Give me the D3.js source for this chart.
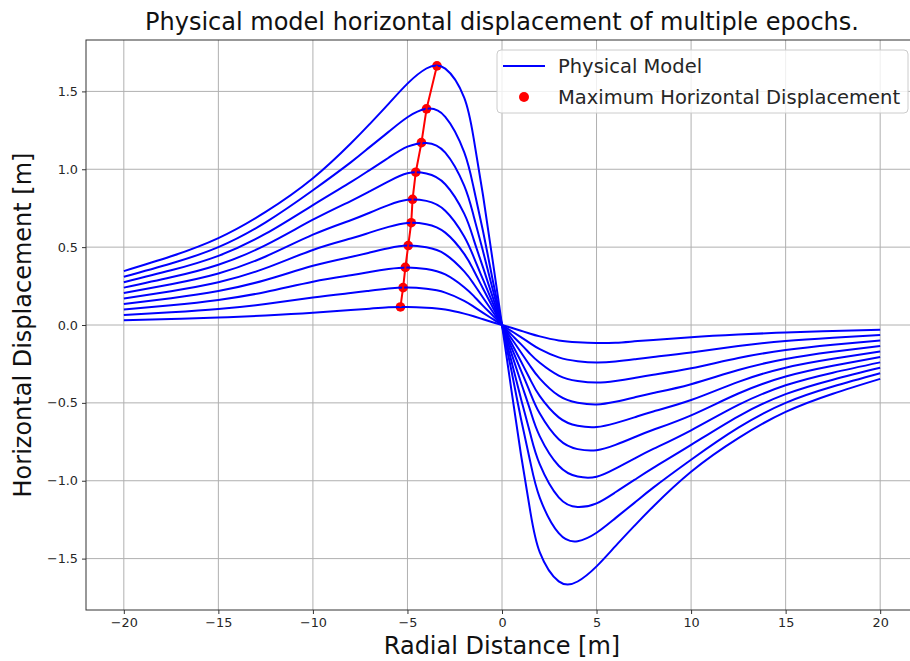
<!DOCTYPE html>
<html>
<head>
<meta charset="utf-8">
<script src="https://cdn.jsdelivr.net/npm/d3@7"></script>
<style>
  body { margin: 0; background: #fff; }
  svg { display: block; font-family: "DejaVu Sans", sans-serif; }
</style>
</head>
<body>
<svg id="chart" width="910" height="661"></svg>
<script>
// radial distance samples shared by every epoch
const xs = [-20, -17.5, -15, -12.5, -10, -8, -7, -6, -5, -4, -3, -2, -1.5, -1, -0.5, 0,
            0.5, 1, 1.5, 2, 3, 4, 5, 6, 7, 8, 10, 12.5, 15, 17.5, 20];

// horizontal displacement per epoch
const epoch1 = [0.346, 0.441, 0.558, 0.726, 0.942, 1.165, 1.29, 1.42, 1.55, 1.647, 1.646, 1.46, 1.20, 0.83, 0.42, 0,
                -0.42, -0.83, -1.20, -1.46, -1.646, -1.647, -1.55, -1.42, -1.29, -1.165, -0.942, -0.726, -0.558, -0.441, -0.346];
const epoch2 = [0.310, 0.395, 0.500, 0.659, 0.865, 1.044, 1.142, 1.240, 1.334, 1.388, 1.337, 1.110, 0.881, 0.600, 0.294, 0,
                -0.294, -0.600, -0.881, -1.110, -1.337, -1.388, -1.334, -1.240, -1.142, -1.044, -0.865, -0.659, -0.500, -0.395, -0.310];
const epoch3 = [0.275, 0.351, 0.444, 0.586, 0.770, 0.917, 0.995, 1.074, 1.145, 1.169, 1.107, 0.895, 0.700, 0.472, 0.233, 0,
                -0.233, -0.472, -0.700, -0.895, -1.107, -1.169, -1.145, -1.074, -0.995, -0.917, -0.770, -0.586, -0.444, -0.351, -0.275];
const epoch4 = [0.240, 0.306, 0.387, 0.513, 0.676, 0.796, 0.858, 0.922, 0.974, 0.973, 0.904, 0.715, 0.550, 0.368, 0.182, 0,
                -0.182, -0.368, -0.550, -0.715, -0.904, -0.973, -0.974, -0.922, -0.858, -0.796, -0.676, -0.513, -0.387, -0.306, -0.240];
const epoch5 = [0.205, 0.262, 0.331, 0.440, 0.580, 0.673, 0.721, 0.770, 0.804, 0.797, 0.734, 0.569, 0.437, 0.291, 0.145, 0,
                -0.145, -0.291, -0.437, -0.569, -0.734, -0.797, -0.804, -0.770, -0.721, -0.673, -0.580, -0.440, -0.331, -0.262, -0.205];
const epoch6 = [0.170, 0.217, 0.274, 0.365, 0.482, 0.555, 0.593, 0.630, 0.655, 0.647, 0.593, 0.457, 0.352, 0.233, 0.116, 0,
                -0.116, -0.233, -0.352, -0.457, -0.593, -0.647, -0.655, -0.630, -0.593, -0.555, -0.482, -0.365, -0.274, -0.217, -0.170];
const epoch7 = [0.135, 0.172, 0.218, 0.289, 0.380, 0.437, 0.465, 0.493, 0.510, 0.499, 0.454, 0.344, 0.265, 0.175, 0.087, 0,
                -0.087, -0.175, -0.265, -0.344, -0.454, -0.499, -0.510, -0.493, -0.465, -0.437, -0.380, -0.289, -0.218, -0.172, -0.135];
const epoch8 = [0.100, 0.127, 0.161, 0.212, 0.278, 0.319, 0.340, 0.360, 0.370, 0.360, 0.325, 0.243, 0.187, 0.123, 0.062, 0,
                -0.062, -0.123, -0.187, -0.243, -0.325, -0.360, -0.370, -0.360, -0.340, -0.319, -0.278, -0.212, -0.161, -0.127, -0.100];
const epoch9 = [0.064, 0.082, 0.103, 0.135, 0.176, 0.205, 0.220, 0.234, 0.240, 0.232, 0.208, 0.155, 0.118, 0.078, 0.039, 0,
                -0.039, -0.078, -0.118, -0.155, -0.208, -0.232, -0.240, -0.234, -0.220, -0.205, -0.176, -0.135, -0.103, -0.082, -0.064];
const epoch10 = [0.030, 0.038, 0.048, 0.061, 0.078, 0.096, 0.105, 0.114, 0.116, 0.111, 0.099, 0.073, 0.056, 0.037, 0.018, 0,
                -0.018, -0.037, -0.056, -0.073, -0.099, -0.111, -0.116, -0.114, -0.105, -0.096, -0.078, -0.061, -0.048, -0.038, -0.030];

// maximum horizontal displacement of each epoch
const peakX = [-3.44, -3.99, -4.26, -4.56, -4.73, -4.80, -4.96, -5.11, -5.23, -5.37];
const peakY = [1.664, 1.388, 1.171, 0.981, 0.807, 0.657, 0.510, 0.370, 0.240, 0.116];

const xTicks = [-20, -15, -10, -5, 0, 5, 10, 15, 20];
const yTicks = [-1.5, -1.0, -0.5, 0.0, 0.5, 1.0, 1.5];

const epochs = [epoch1, epoch2, epoch3, epoch4, epoch5, epoch6, epoch7, epoch8, epoch9, epoch10];

// --- размеры области построения ---
const plot = { left: 86, top: 40, right: 918, bottom: 610 };
const svg = d3.select("#chart");

const x = d3.scaleLinear().domain([-22, 22]).range([plot.left, plot.right]);
const y = d3.scaleLinear().domain([-1.83, 1.83]).range([plot.bottom, plot.top]);

const minus = s => s.replace("-", "\u2212");

svg.append("defs").append("clipPath").attr("id", "clip")
  .append("rect")
  .attr("x", plot.left).attr("y", plot.top)
  .attr("width", plot.right - plot.left).attr("height", plot.bottom - plot.top);

// grid
const grid = svg.append("g").attr("stroke", "#b0b0b0").attr("stroke-width", 1);
grid.selectAll("line.gx").data(xTicks).enter().append("line")
  .attr("x1", d => x(d)).attr("x2", d => x(d))
  .attr("y1", plot.top).attr("y2", plot.bottom);
grid.selectAll("line.gy").data(yTicks).enter().append("line")
  .attr("x1", plot.left).attr("x2", plot.right)
  .attr("y1", d => y(d)).attr("y2", d => y(d));

// axes
const xAxis = svg.append("g")
  .attr("transform", `translate(0,${plot.bottom})`)
  .call(d3.axisBottom(x).tickValues(xTicks).tickSize(4).tickPadding(4)
    .tickFormat(d => minus(String(d))));
const yAxis = svg.append("g")
  .attr("transform", `translate(${plot.left},0)`)
  .call(d3.axisLeft(y).tickValues(yTicks).tickSize(4).tickPadding(4)
    .tickFormat(d => minus(d.toFixed(1))));
[xAxis, yAxis].forEach(a => {
  a.select(".domain").remove();
  a.selectAll("line").attr("stroke", "#333");
  a.selectAll("text").attr("fill", "#262626").style("font-size", "12.8px")
    .style("font-family", "DejaVu Sans, sans-serif");
});

const body = svg.append("g").attr("clip-path", "url(#clip)");

// red markers (drawn first, the lines pass over them)
body.selectAll("circle.peak").data(peakX).enter().append("circle")
  .attr("cx", d => x(d)).attr("cy", (d, i) => y(peakY[i]))
  .attr("r", 4.8).attr("fill", "red");

// blue model curves
const line = d3.line()
  .x((d, i) => x(xs[i]))
  .y(d => y(d))
  .curve(d3.curveNatural);
body.selectAll("path.model").data(epochs).enter().append("path")
  .attr("fill", "none").attr("stroke", "blue").attr("stroke-width", 2)
  .attr("d", line);

// red line through the maxima
body.append("path")
  .datum(peakX)
  .attr("fill", "none").attr("stroke", "red").attr("stroke-width", 2)
  .attr("d", d3.line().x(d => x(d)).y((d, i) => y(peakY[i])));

// frame
svg.append("rect")
  .attr("x", plot.left).attr("y", plot.top)
  .attr("width", plot.right - plot.left).attr("height", plot.bottom - plot.top)
  .attr("fill", "none").attr("stroke", "#333").attr("stroke-width", 1);

// title and labels
svg.append("text")
  .attr("x", (plot.left + plot.right) / 2).attr("y", 30)
  .attr("text-anchor", "middle").style("font-size", "24px").attr("fill", "#111")
  .text("Physical model horizontal displacement of multiple epochs.");
svg.append("text")
  .attr("x", (plot.left + plot.right) / 2).attr("y", 654)
  .attr("text-anchor", "middle").style("font-size", "24px").attr("fill", "#111")
  .text("Radial Distance [m]");
svg.append("text")
  .attr("transform", `translate(31,${(plot.top + plot.bottom) / 2}) rotate(-90)`)
  .attr("text-anchor", "middle").style("font-size", "24px").attr("fill", "#111")
  .text("Horizontal Displacement [m]");

// legend
const lg = svg.append("g");
lg.append("rect")
  .attr("x", 497).attr("y", 50).attr("width", 411).attr("height", 63).attr("rx", 4)
  .attr("fill", "white").attr("fill-opacity", 0.8)
  .attr("stroke", "#cccccc").attr("stroke-width", 1);
lg.append("line").attr("x1", 503).attr("x2", 545).attr("y1", 66).attr("y2", 66)
  .attr("stroke", "blue").attr("stroke-width", 2);
lg.append("circle").attr("cx", 524).attr("cy", 97).attr("r", 5).attr("fill", "red");
lg.append("text").attr("x", 558).attr("y", 73).style("font-size", "19.5px").attr("fill", "#262626")
  .text("Physical Model");
lg.append("text").attr("x", 558).attr("y", 104).style("font-size", "19.5px").attr("fill", "#262626")
  .text("Maximum Horizontal Displacement");
</script>
</body>
</html>
